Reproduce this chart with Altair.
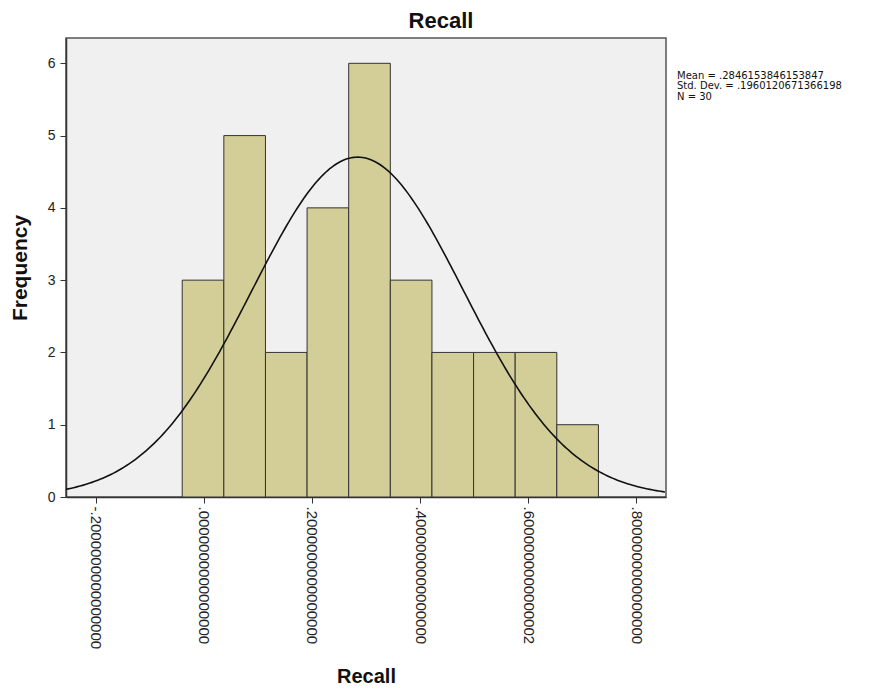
import altair as alt
import pandas as pd

# ---- data ----
bin_start = -0.04          # left edge of first bin
bin_width = 0.077          # width of each bin
counts = [3, 5, 2, 4, 6, 3, 2, 2, 2, 1]

mean_val = 0.2846153846153847
sd_val = 0.1960120671366198
n_val = 30

x_tick_values = [-0.2, 0.0, 0.2, 0.4, 0.6, 0.8]
x_tick_labels = ["-.2000000000000000", ".0000000000000000", ".2000000000000000",
                 ".4000000000000000", ".6000000000000002", ".8000000000000000"]
y_tick_values = [0, 1, 2, 3, 4, 5, 6]

x_domain = [-0.255, 0.855]
y_domain = [0, 6.35]

stats_lines = ["Mean = .2846153846153847", "Std. Dev. = .1960120671366198", "N = 30"]

# ---- tables ----
bars = pd.DataFrame({
    "start": [bin_start + i * bin_width for i in range(len(counts))],
    "end": [bin_start + (i + 1) * bin_width for i in range(len(counts))],
    "count": counts,
})

label_expr = "''"
for v, lab in reversed(list(zip(x_tick_values, x_tick_labels))):
    label_expr = f"abs(datum.value - ({v})) < 1e-9 ? '{lab}' : ({label_expr})"

FONT = "Liberation Sans"

xscale = alt.Scale(domain=x_domain, nice=False, zero=False)
yscale = alt.Scale(domain=y_domain, nice=False, zero=False)

x_axis = alt.Axis(values=x_tick_values, labelExpr=label_expr, labelAngle=90,
                  labelFontSize=15, labelFont=FONT, labelColor="#222",
                  labelPadding=3, labelAlign="left", labelBaseline="middle",
                  tickSize=6, tickColor="#333", domainColor="#333", domainWidth=1.5,
                  grid=False, title="Recall", titleFont=FONT, titleFontSize=20,
                  titleFontWeight="bold", titleColor="#111",
                  titleBaseline="alphabetic", titleY=185, labelOverlap=False)
y_axis = alt.Axis(values=y_tick_values, format="d", labelFontSize=14, labelFont=FONT,
                  labelColor="#222", labelPadding=5, tickSize=6, tickColor="#333",
                  domainColor="#333", domainWidth=1.5, grid=False,
                  title="Frequency", titleFont=FONT, titleFontSize=21,
                  titleFontWeight="bold", titleColor="#111",
                  titleBaseline="alphabetic", titleX=-40, titleAngle=-90)

bar_layer = alt.Chart(bars).mark_bar(
    fill="#D3CE97", stroke="#333333", strokeWidth=1, opacity=1
).encode(
    x=alt.X("start:Q", scale=xscale, axis=x_axis),
    x2="end:Q",
    y=alt.Y("count:Q", scale=yscale, axis=y_axis),
    y2=alt.datum(0),
)

curve_layer = alt.Chart(alt.sequence(x_domain[0], x_domain[1] + 0.001, 0.004, as_="x")).transform_calculate(
    density=f"{n_val} * {bin_width} / ({sd_val} * sqrt(2 * PI)) * exp(-0.5 * pow((datum.x - {mean_val}) / {sd_val}, 2))"
).mark_line(color="#111111", strokeWidth=1.6, clip=True).encode(
    x=alt.X("x:Q", scale=xscale),
    y=alt.Y("density:Q", scale=yscale),
)

stats_layer = alt.Chart(pd.DataFrame({"t": ["\n".join(stats_lines)]})).mark_text(
    align="left", baseline="alphabetic", font="DejaVu Sans", fontSize=10,
    lineBreak="\n", lineHeight=10.5, color="#111"
).encode(
    x=alt.value(611), y=alt.value(40.5), text="t:N"
)

chart = alt.layer(bar_layer, curve_layer, stats_layer).properties(
    width=600, height=459,
    padding={"left": 58, "top": 30, "right": 199, "bottom": 188},
    autosize="none",
    title=alt.Title("Recall", font=FONT, fontSize=22, fontWeight="bold",
                    color="#111", anchor="middle", dx=75, offset=5),
    background="white",
).configure_view(fill="#F0F0F0", stroke="#555555", strokeWidth=1.5)

chart.save("out.html", embed_options={"renderer": "svg", "actions": False})
